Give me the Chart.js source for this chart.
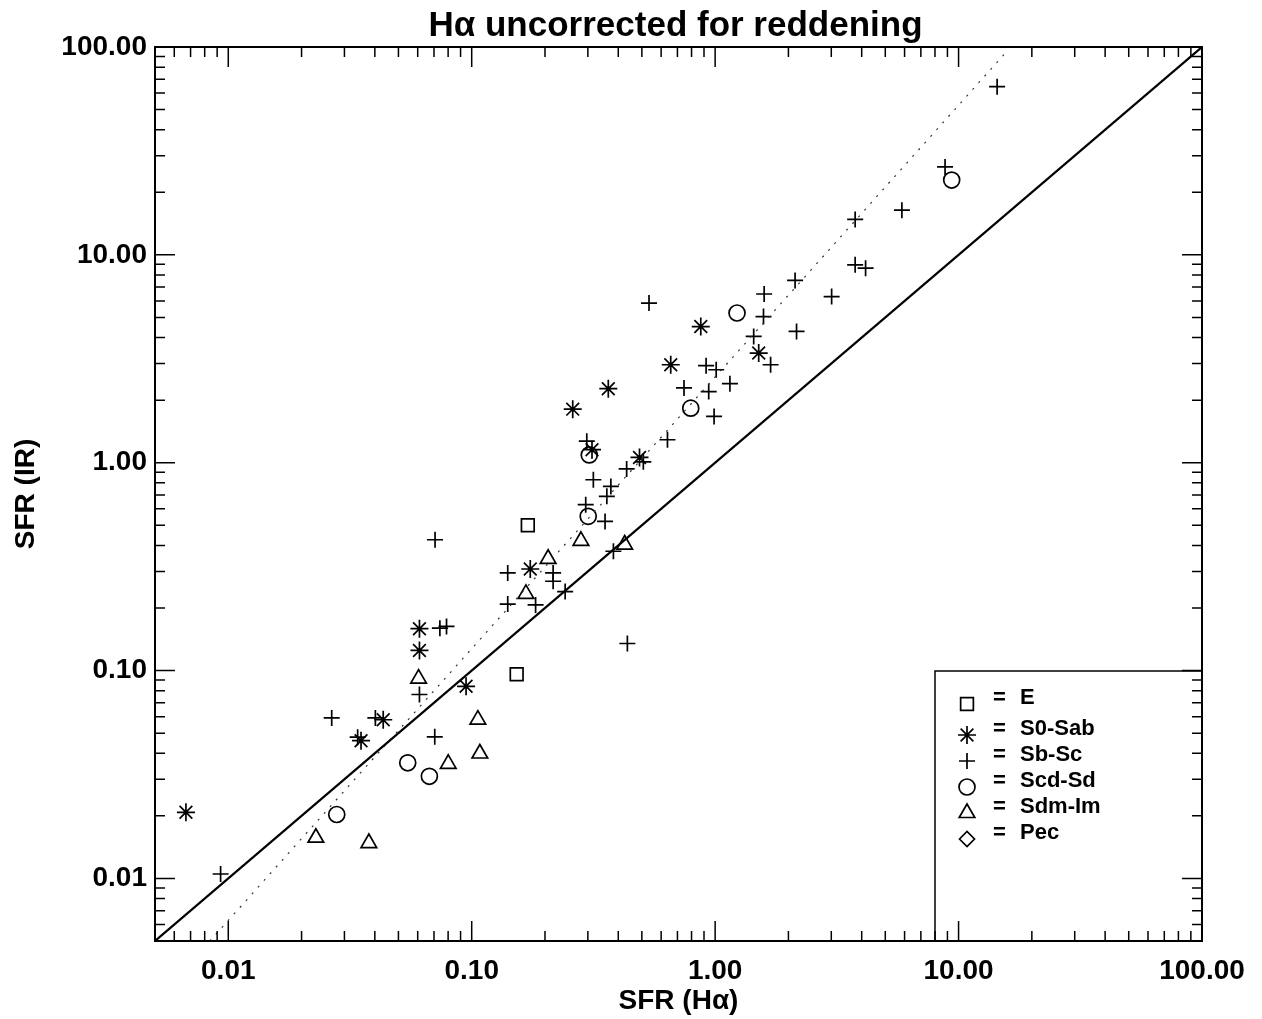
<!DOCTYPE html>
<html>
<head>
<meta charset="utf-8">
<title>SFR (IR) vs SFR (Halpha)</title>
<script src="https://cdn.jsdelivr.net/npm/chart.js@4.4.0/dist/chart.umd.min.js"></script>
<style>
    html, body { margin: 0; padding: 0; background: #fff; }
    #wrap { width: 1262px; height: 1019px; }
</style>
</head>
<body>
<div id="wrap"><canvas id="sfrChart" width="1262" height="1019"></canvas></div>
<script>
// ================= DATA =================
const axisMin = 0.005;
const axisMax = 100;
const labelTicks = [0.01, 0.1, 1, 10, 100];

// E
const eX = [0.17, 0.153];
const eY = [0.50, 0.096];

// S0-Sab
const s0X = [0.0067, 0.0351, 0.0433, 0.061, 0.061, 0.0948, 0.174, 0.260, 0.364, 0.657, 0.873, 1.51, 0.312, 0.489];
const s0Y = [0.0208, 0.046, 0.058, 0.159, 0.125, 0.084, 0.308, 1.81, 2.27, 2.96, 4.52, 3.37, 1.155, 1.06];

// Sb-Sc
const sbX = [0.0093, 0.0266, 0.034, 0.0402, 0.061, 0.0705, 0.0707, 0.074, 0.0788, 0.1406, 0.1406, 0.183,
             0.216, 0.216, 0.242, 0.382, 0.436, 0.294, 0.353, 0.359, 0.373, 0.535, 0.297, 0.316, 0.433,
             0.507, 0.637, 0.745, 0.941, 1.15, 0.99, 0.918, 1.01, 1.44, 1.58, 1.59, 2.13, 2.16, 1.69,
             14.4, 8.80, 5.85, 3.76, 3.76, 4.15, 3.01];
const sbY = [0.0105, 0.0592, 0.0478, 0.0592, 0.0767, 0.048, 0.426, 0.160, 0.163, 0.295, 0.209, 0.207,
             0.295, 0.269, 0.240, 0.375, 0.135, 0.628, 0.522, 0.689, 0.769, 5.86, 1.27, 0.828, 0.933,
             1.01, 1.29, 2.29, 2.20, 2.40, 1.67, 2.93, 2.80, 4.05, 5.05, 6.48, 7.53, 4.28, 2.96,
             64.4, 26.5, 16.4, 14.8, 8.95, 8.63, 6.30];

// Scd-Sd
const scdX = [0.0546, 0.0670, 0.0279, 0.301, 0.304, 0.794, 1.23, 9.37];
const scdY = [0.0360, 0.0310, 0.0203, 0.552, 1.09, 1.83, 5.25, 22.9];

// Sdm-Im
const sdmX = [0.0229, 0.0378, 0.0801, 0.106, 0.108, 0.0605, 0.167, 0.206, 0.281, 0.425];
const sdmY = [0.0157, 0.0148, 0.0356, 0.0581, 0.0399, 0.0915, 0.234, 0.345, 0.421, 0.404];

// Pec (none plotted)
const pecX = [];
const pecY = [];

// lines: one-to-one and fitted relation
const oneX = [0.005, 100];
const oneY = [0.005, 100];
const fitX = [0.0084, 15.7];
const fitY = [0.005, 94.6];

// ================= HELPERS =================
const FONT = '"Liberation Sans", Arial, Helvetica, sans-serif';

const pts = (xs, ys) => xs.map((x, i) => ({ x, y: ys[i] }));

const markerSet = (label, xs, ys, style, radius) => ({
    label,
    data: pts(xs, ys),
    pointStyle: style,
    pointRadius: radius,
    pointHoverRadius: radius,
    pointBorderColor: '#000',
    pointBackgroundColor: 'rgba(0,0,0,0)',
    pointBorderWidth: 1.7,
    showLine: false
});

// minor + major tick values for the inner tick marks
const tickValues = [];
[0.001, 0.01, 0.1, 1, 10].forEach(d => {
    for (let m = 1; m <= 9; m++) {
        const v = +(m * d).toPrecision(3);
        if (v >= axisMin && v <= axisMax) tickValues.push({ v, major: m === 1 });
    }
});
tickValues.push({ v: 100, major: true });

// ================= FRAME / TICKS / TITLE / LEGEND =================
const framePlugin = {
    id: 'frame',
    afterDraw(chart) {
        const { ctx, chartArea: a, scales } = chart;
        ctx.save();

        // box
        ctx.strokeStyle = '#000';
        ctx.lineWidth = 2;
        ctx.strokeRect(a.left, a.top, a.right - a.left, a.bottom - a.top);

        // inward ticks on all four sides
        ctx.lineWidth = 1.5;
        ctx.beginPath();
        tickValues.forEach(t => {
            const len = t.major ? 20 : 10;
            const px = scales.x.getPixelForValue(t.v);
            const py = scales.y.getPixelForValue(t.v);
            ctx.moveTo(px, a.bottom); ctx.lineTo(px, a.bottom - len);
            ctx.moveTo(px, a.top); ctx.lineTo(px, a.top + len);
            ctx.moveTo(a.left, py); ctx.lineTo(a.left + len, py);
            ctx.moveTo(a.right, py); ctx.lineTo(a.right - len, py);
        });
        ctx.stroke();

        // title
        ctx.fillStyle = '#000';
        ctx.font = 'bold 35px ' + FONT;
        ctx.textAlign = 'center';
        ctx.textBaseline = 'alphabetic';
        ctx.fillText('H\u03b1 uncorrected for reddening', (a.left + a.right) / 2 - 3, 36);

        // legend box
        const lx = a.right - 267;
        const ly = a.bottom - 270;
        ctx.lineWidth = 1.5;
        ctx.beginPath();
        ctx.moveTo(lx, a.bottom);
        ctx.lineTo(lx, ly);
        ctx.lineTo(a.right, ly);
        ctx.stroke();

        const rowsY = [33, 64, 90, 116, 142, 168];
        const drawPoint = Chart.helpers && Chart.helpers.drawPoint;
        ctx.font = 'bold 22px ' + FONT;
        ctx.textAlign = 'left';
        ctx.textBaseline = 'middle';
        chart.data.datasets.filter(ds => ds.legendRow !== undefined).forEach(ds => {
            const ry = ly + rowsY[ds.legendRow];
            if (drawPoint) {
                ctx.strokeStyle = '#000';
                ctx.fillStyle = 'rgba(0,0,0,0)';
                ctx.lineWidth = 1.7;
                drawPoint(ctx, { pointStyle: ds.pointStyle, radius: ds.pointRadius, rotation: 0, borderWidth: 1.7 }, lx + 32, ry);
            }
            ctx.fillStyle = '#000';
            ctx.fillText('=', lx + 58, ry - 6);
            ctx.fillText(ds.label, lx + 85, ry - 6);
        });

        ctx.restore();
    }
};

// ================= CHART =================
const sets = [
    markerSet('E', eX, eY, 'rect', 9),
    markerSet('S0-Sab', s0X, s0Y, 'star', 9),
    markerSet('Sb-Sc', sbX, sbY, 'cross', 8),
    markerSet('Scd-Sd', scdX, scdY, 'circle', 8),
    markerSet('Sdm-Im', sdmX, sdmY, 'triangle', 9),
    markerSet('Pec', pecX, pecY, 'rectRot', 7.5)
];
sets.forEach((s, i) => { s.legendRow = i; });

const lineSets = [
    {
        label: 'one-to-one',
        data: pts(oneX, oneY),
        showLine: true,
        borderColor: '#000',
        borderWidth: 2.2,
        pointRadius: 0
    },
    {
        label: 'fit',
        data: pts(fitX, fitY),
        showLine: true,
        borderColor: '#333',
        borderWidth: 1.2,
        borderDash: [2, 7],
        pointRadius: 0
    }
];

const axisFont = { family: FONT, size: 28, weight: 'bold' };
const titleFont = { family: FONT, size: 28, weight: 'bold' };

new Chart(document.getElementById('sfrChart'), {
    type: 'scatter',
    data: { datasets: [...lineSets, ...sets] },
    options: {
        responsive: false,
        animation: false,
        layout: { padding: { top: 47, right: 60, left: 0, bottom: 0 } },
        plugins: {
            legend: { display: false },
            title: { display: false },
            tooltip: { enabled: false }
        },
        scales: {
            x: {
                type: 'logarithmic',
                min: axisMin,
                max: axisMax,
                grid: { display: false, drawTicks: false },
                border: { display: false },
                ticks: {
                    color: '#000',
                    font: axisFont,
                    padding: 13,
                    maxRotation: 0,
                    autoSkip: false,
                    callback: v => Number(v).toFixed(2)
                },
                title: {
                    display: true,
                    text: 'SFR (H\u03b1)',
                    color: '#000',
                    font: titleFont,
                    padding: { top: 0, bottom: 1 }
                },
                afterBuildTicks: s => { s.ticks = labelTicks.map(v => ({ value: v })); },
                afterFit: s => { s.height = 78; }
            },
            y: {
                type: 'logarithmic',
                min: axisMin,
                max: axisMax,
                grid: { display: false, drawTicks: false },
                border: { display: false },
                ticks: {
                    color: '#000',
                    font: axisFont,
                    padding: 8,
                    autoSkip: false,
                    callback: v => Number(v).toFixed(2)
                },
                title: {
                    display: true,
                    text: 'SFR (IR)',
                    color: '#000',
                    font: titleFont,
                    padding: { top: 9, bottom: 0 }
                },
                afterBuildTicks: s => { s.ticks = labelTicks.map(v => ({ value: v })); },
                afterFit: s => { s.width = 155; }
            }
        }
    },
    plugins: [framePlugin]
});
</script>
</body>
</html>
